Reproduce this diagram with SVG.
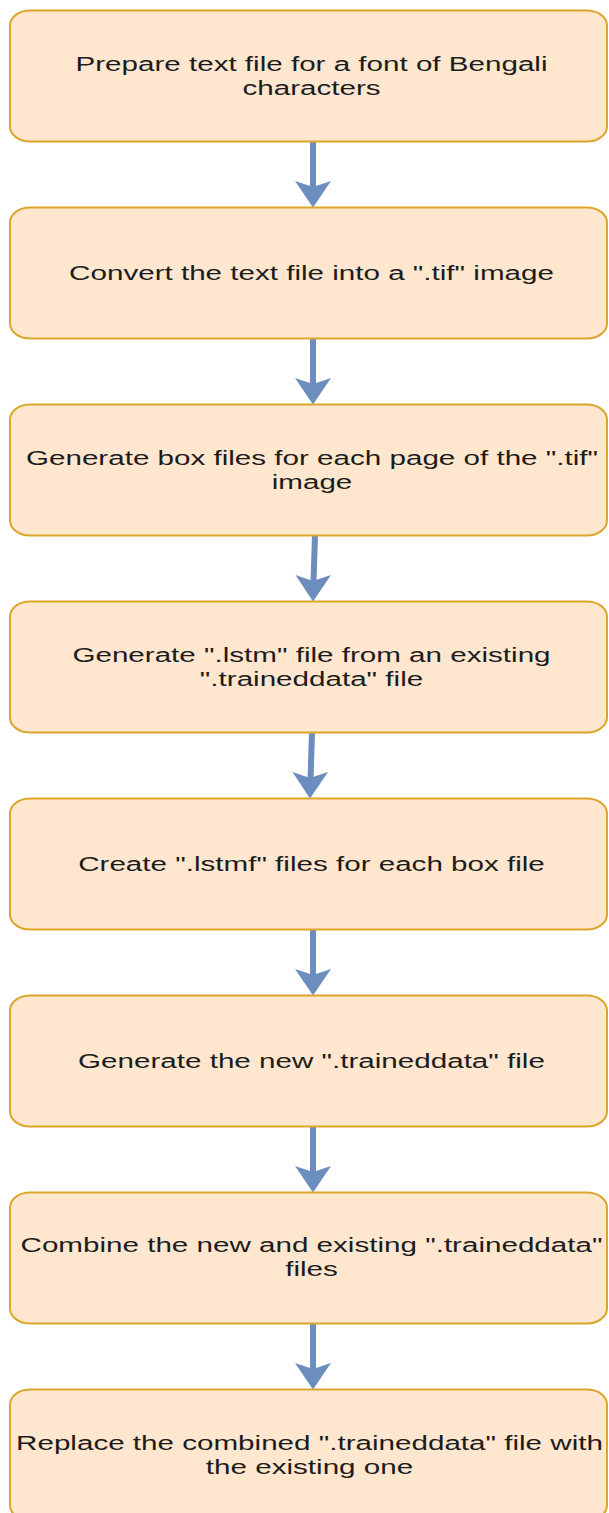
<svg xmlns="http://www.w3.org/2000/svg" width="609" height="1513" viewBox="0 0 609 1513">
<style>
.box{fill:#fee6cf;stroke:#dca62a;stroke-width:2}
.t{font-family:"Liberation Sans",Arial,sans-serif;font-size:20px;fill:#1c1c1c;text-anchor:middle}
.c{stroke:#6c8ebf;stroke-width:6;fill:none}
.h{fill:#6c8ebf}
</style>
<rect width="609" height="1513" fill="#ffffff"/>
<g id="connectors">
<path class="c" d="M313 141.5 L313 188"/><polygon class="h" points="295,181 313,207.5 331,181 313,187"/>
<path class="c" d="M313 338.5 L313 385"/><polygon class="h" points="295,378 313,404.5 331,378 313,384"/>
<path class="c" d="M315 535.5 L313.5 582"/><polygon class="h" points="295.5,575 313,601.5 331,575 313,581"/>
<path class="c" d="M312 732.5 L310.5 779"/><polygon class="h" points="292.5,772 310,798.5 328,772 310,778"/>
<path class="c" d="M313 929.5 L313 976"/><polygon class="h" points="295,969 313,995.5 331,969 313,975"/>
<path class="c" d="M313 1126.5 L313 1173"/><polygon class="h" points="295,1166 313,1192.5 331,1166 313,1172"/>
<path class="c" d="M313 1323.5 L313 1370"/><polygon class="h" points="295,1363 313,1389.5 331,1363 313,1369"/>
</g>
<g id="n1"><rect class="box" x="10" y="10.5" width="597" height="131" rx="20" ry="15"/>
<text class="t" transform="translate(311.5 71) scale(1.48 1)">Prepare text file for a font of Bengali</text>
<text class="t" transform="translate(311.5 95) scale(1.48 1)">characters</text></g>
<g id="n2"><rect class="box" x="10" y="207.5" width="597" height="131" rx="20" ry="15"/>
<text class="t" transform="translate(311.5 279.5) scale(1.48 1)">Convert the text file into a ".tif" image</text></g>
<g id="n3"><rect class="box" x="10" y="404.5" width="597" height="131" rx="20" ry="15"/>
<text class="t" transform="translate(312 465) scale(1.48 1)">Generate box files for each page of the ".tif"</text>
<text class="t" transform="translate(312 489) scale(1.48 1)">image</text></g>
<g id="n4"><rect class="box" x="10" y="601.5" width="597" height="131" rx="20" ry="15"/>
<text class="t" transform="translate(311.5 662) scale(1.48 1)">Generate ".lstm" file from an existing</text>
<text class="t" transform="translate(311.5 686) scale(1.48 1)">".traineddata" file</text></g>
<g id="n5"><rect class="box" x="10" y="798.5" width="597" height="131" rx="20" ry="15"/>
<text class="t" transform="translate(311.5 870.5) scale(1.48 1)">Create ".lstmf" files for each box file</text></g>
<g id="n6"><rect class="box" x="10" y="995.5" width="597" height="131" rx="20" ry="15"/>
<text class="t" transform="translate(311.5 1067.5) scale(1.48 1)">Generate the new ".traineddata" file</text></g>
<g id="n7"><rect class="box" x="10" y="1192.5" width="597" height="131" rx="20" ry="15"/>
<text class="t" transform="translate(311.5 1251.5) scale(1.48 1)">Combine the new and existing ".traineddata"</text>
<text class="t" transform="translate(311.5 1276) scale(1.48 1)">files</text></g>
<g id="n8"><rect class="box" x="10" y="1389.5" width="597" height="131" rx="20" ry="15"/>
<text class="t" transform="translate(309.5 1450) scale(1.48 1)">Replace the combined ".traineddata" file with</text>
<text class="t" transform="translate(309.5 1474) scale(1.48 1)">the existing one</text></g>
</svg>
